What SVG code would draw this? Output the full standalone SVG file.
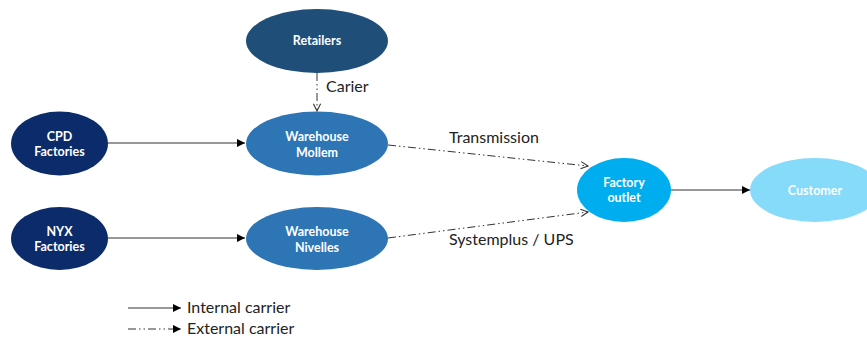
<svg xmlns="http://www.w3.org/2000/svg" width="867" height="341" viewBox="0 0 867 341">
  <defs>
    <marker id="solidHead" viewBox="0 0 10 10" refX="10" refY="5" markerWidth="8" markerHeight="8" markerUnits="userSpaceOnUse" orient="auto">
      <path d="M0,0 L10,5 L0,10 Z" fill="#000"/>
    </marker>
    <marker id="openHead" viewBox="0 0 10 10" refX="9" refY="5" markerWidth="9" markerHeight="9" markerUnits="userSpaceOnUse" orient="auto">
      <path d="M1,1 L9,5 L1,9" fill="none" stroke="#333" stroke-width="1.2"/>
    </marker>
    <style>
      .node text { font-family: Lato, "Open Sans", "Liberation Sans", sans-serif; font-weight: bold; font-size: 12.5px; fill: #fff; text-anchor: middle; }
      .lbl { font-family: Lato, "Open Sans", "Liberation Sans", sans-serif; font-size: 16px; fill: #222; }
      .internal { stroke: #333; stroke-width: 1; fill: none; marker-end: url(#solidHead); }
      .external { stroke: #333; stroke-width: 1; fill: none; stroke-dasharray: 8 3 1.5 3 1.5 3; marker-end: url(#openHead); }
    </style>
  </defs>
  <rect width="867" height="341" fill="#fff"/>

  <g id="connectors">
    <line class="external" x1="317" y1="73" x2="317" y2="111"/>
    <line class="internal" x1="108" y1="143" x2="245" y2="143"/>
    <line class="internal" x1="108" y1="238" x2="245" y2="238"/>
    <line class="external" x1="388" y1="145" x2="588" y2="166"/>
    <line class="external" x1="388" y1="238" x2="588" y2="212"/>
    <line class="internal" x1="671" y1="190" x2="750" y2="190"/>
  </g>

  <g id="labels">
    <text class="lbl" x="326" y="92">Carier</text>
    <text class="lbl" x="449" y="143">Transmission</text>
    <text class="lbl" x="449" y="245">Systemplus / UPS</text>
  </g>

  <g id="node-retailers" class="node">
    <ellipse cx="317" cy="41" rx="71" ry="32" fill="#1F4E79"/>
    <text x="317" y="45">Retailers</text>
  </g>
  <g id="node-cpd" class="node">
    <ellipse cx="59.5" cy="143.5" rx="48.5" ry="32" fill="#0C2B6A"/>
    <text x="59.5" y="141">CPD</text>
    <text x="59.5" y="156">Factories</text>
  </g>
  <g id="node-nyx" class="node">
    <ellipse cx="59.5" cy="238.5" rx="48.5" ry="31.5" fill="#0C2B6A"/>
    <text x="59.5" y="236">NYX</text>
    <text x="59.5" y="251">Factories</text>
  </g>
  <g id="node-mollem" class="node">
    <ellipse cx="317" cy="143.5" rx="71" ry="32" fill="#2E75B6"/>
    <text x="317" y="141">Warehouse</text>
    <text x="317" y="157">Mollem</text>
  </g>
  <g id="node-nivelles" class="node">
    <ellipse cx="317" cy="238.5" rx="71" ry="31.5" fill="#2E75B6"/>
    <text x="317" y="236">Warehouse</text>
    <text x="317" y="252">Nivelles</text>
  </g>
  <g id="node-outlet" class="node">
    <ellipse cx="624" cy="190" rx="47" ry="32" fill="#00AEEF"/>
    <text x="624" y="187">Factory</text>
    <text x="624" y="202">outlet</text>
  </g>
  <g id="node-customer" class="node">
    <ellipse cx="815" cy="190" rx="65" ry="32" fill="#86DAFA"/>
    <text x="815" y="195">Customer</text>
  </g>

  <g id="legend">
    <line class="internal" x1="128" y1="308" x2="181" y2="308"/>
    <text class="lbl" x="187" y="313">Internal carrier</text>
    <line class="external" x1="128" y1="329" x2="181" y2="329" style="marker-end:url(#solidHead)"/>
    <text class="lbl" x="187" y="334">External carrier</text>
  </g>
</svg>
